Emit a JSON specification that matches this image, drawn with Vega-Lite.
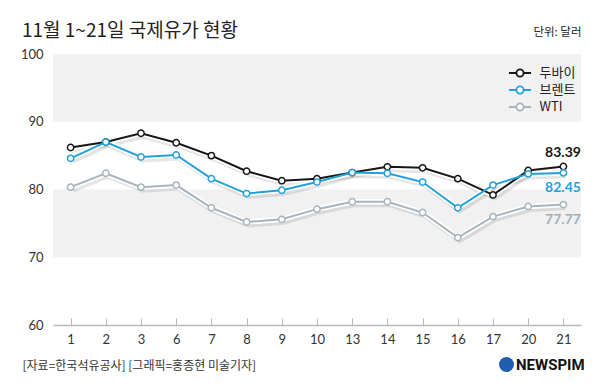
{
  "$schema": "https://vega.github.io/schema/vega-lite/v6.json",
  "width": 528,
  "height": 271,
  "autosize": {"type": "none"},
  "padding": {"left": 53, "top": 54, "right": 19, "bottom": 65},
  "background": "white",
  "title": {
    "text": "11월 1~21일 국제유가 현황",
    "anchor": "start",
    "frame": "group",
    "font": "Noto Sans CJK KR",
    "fontSize": 19,
    "fontWeight": "normal",
    "color": "#222222",
    "dx": -31,
    "dy": 25,
    "offset": 10
  },
  "config": {"view": {"stroke": null}},
  "datasets": {
    "bands": [
      {"value": 90, "value2": 100},
      {"value": 70, "value2": 80}
    ],
    "brand": [{"brand": "NEWSPIM"}],
    "prices": [
      {"day": 1, "series": "두바이", "value": 86.2},
      {"day": 2, "series": "두바이", "value": 87.0},
      {"day": 3, "series": "두바이", "value": 88.3},
      {"day": 6, "series": "두바이", "value": 86.9},
      {"day": 7, "series": "두바이", "value": 85.0},
      {"day": 8, "series": "두바이", "value": 82.7},
      {"day": 9, "series": "두바이", "value": 81.3},
      {"day": 10, "series": "두바이", "value": 81.6},
      {"day": 13, "series": "두바이", "value": 82.5},
      {"day": 14, "series": "두바이", "value": 83.35},
      {"day": 15, "series": "두바이", "value": 83.2},
      {"day": 16, "series": "두바이", "value": 81.6},
      {"day": 17, "series": "두바이", "value": 79.2},
      {"day": 20, "series": "두바이", "value": 82.8},
      {"day": 21, "series": "두바이", "value": 83.39},
      {"day": 1, "series": "브렌트", "value": 84.6},
      {"day": 2, "series": "브렌트", "value": 87.0},
      {"day": 3, "series": "브렌트", "value": 84.8},
      {"day": 6, "series": "브렌트", "value": 85.1},
      {"day": 7, "series": "브렌트", "value": 81.6},
      {"day": 8, "series": "브렌트", "value": 79.4},
      {"day": 9, "series": "브렌트", "value": 79.9},
      {"day": 10, "series": "브렌트", "value": 81.1},
      {"day": 13, "series": "브렌트", "value": 82.5},
      {"day": 14, "series": "브렌트", "value": 82.4},
      {"day": 15, "series": "브렌트", "value": 81.1},
      {"day": 16, "series": "브렌트", "value": 77.3},
      {"day": 17, "series": "브렌트", "value": 80.65},
      {"day": 20, "series": "브렌트", "value": 82.3},
      {"day": 21, "series": "브렌트", "value": 82.45},
      {"day": 1, "series": "WTI", "value": 80.35},
      {"day": 2, "series": "WTI", "value": 82.4},
      {"day": 3, "series": "WTI", "value": 80.35},
      {"day": 6, "series": "WTI", "value": 80.65},
      {"day": 7, "series": "WTI", "value": 77.3},
      {"day": 8, "series": "WTI", "value": 75.2},
      {"day": 9, "series": "WTI", "value": 75.6},
      {"day": 10, "series": "WTI", "value": 77.1},
      {"day": 13, "series": "WTI", "value": 78.2},
      {"day": 14, "series": "WTI", "value": 78.2},
      {"day": 15, "series": "WTI", "value": 76.6},
      {"day": 16, "series": "WTI", "value": 72.9},
      {"day": 17, "series": "WTI", "value": 76.0},
      {"day": 20, "series": "WTI", "value": 77.5},
      {"day": 21, "series": "WTI", "value": 77.77}
    ]
  },
  "encoding": {
    "y": {
      "field": "value",
      "type": "quantitative",
      "scale": {"domain": [60, 100], "nice": false, "zero": false},
      "axis": {
        "values": [60, 70, 80, 90, 100],
        "domain": false,
        "ticks": false,
        "grid": false,
        "labelPadding": 10,
        "labelFont": "Lato",
        "labelFontSize": 13,
        "labelColor": "#333333",
        "labelFlush": false,
        "title": "단위: 달러",
        "titleAngle": 0,
        "titleX": 528,
        "titleY": -22,
        "titleAlign": "right",
        "titleBaseline": "middle",
        "titleFont": "Noto Sans CJK KR",
        "titleFontSize": 11.5,
        "titleFontWeight": "normal",
        "titleColor": "#222222"
      }
    }
  },
  "layer": [
    {
      "data": {"name": "bands"},
      "mark": {"type": "rect", "color": "#f1f1f1"},
      "encoding": {"y2": {"field": "value2"}}
    },
    {
      "data": {"name": "prices"},
      "mark": {"type": "line", "stroke": "#000000", "strokeWidth": 5, "opacity": 0.1, "yOffset": 3, "xOffset": 2},
      "encoding": {
        "x": {"field": "day", "type": "ordinal", "scale": {"type": "point", "padding": 0.5},
          "axis": {
            "labelAngle": 0, "grid": false,
            "domainColor": "#b8b8b8", "domainWidth": 1.5,
            "tickColor": "#b8b8b8", "tickSize": -7, "tickWidth": 1,
            "labelPadding": 15, "labelFont": "Lato", "labelFontSize": 13, "labelColor": "#333333",
            "title": "[자료=한국석유공사] [그래픽=홍종현 미술기자]",
            "titleAnchor": "start", "titleAlign": "left", "titleX": -31, "titleY": 40,
            "titleBaseline": "middle", "titleFont": "Noto Sans CJK KR", "titleFontSize": 12,
            "titleFontWeight": "normal", "titleColor": "#333333"
          }
        },
        "detail": {"field": "series"}
      }
    },
    {
      "data": {"name": "prices"},
      "mark": {"type": "line", "stroke": "white", "strokeWidth": 5.5},
      "encoding": {
        "x": {"field": "day", "type": "ordinal"},
        "detail": {"field": "series"}
      }
    },
    {
      "data": {"name": "prices"},
      "mark": {"type": "line", "strokeWidth": 2},
      "encoding": {
        "x": {"field": "day", "type": "ordinal"},
        "stroke": {
          "field": "series",
          "type": "nominal",
          "scale": {"domain": ["두바이", "브렌트", "WTI"], "range": ["#161616", "#22a1db", "#a8b4bc"]},
          "legend": {
            "orient": "none",
            "legendX": 457.5,
            "legendY": 9.5,
            "title": null,
            "padding": 0,
            "rowPadding": 0,
            "symbolType": "M-1.3,0H-0.42M0.42,0H1.3M0.42,0A0.42,0.42,0,1,1,-0.42,0A0.42,0.42,0,1,1,0.42,0Z",
            "symbolSize": 289,
            "labelFont": "Noto Sans CJK KR",
            "labelFontSize": 13,
            "labelColor": "#222222",
            "labelOffset": 10,
            "encode": {
              "symbols": {
                "update": {
                  "fill": {"value": "white"},
                  "fillOpacity": {"value": 1},
                  "strokeWidth": {"value": 1.8},
                  "opacity": {"value": 1}
                }
              }
            }
          }
        }
      }
    },
    {
      "data": {"name": "prices"},
      "mark": {"type": "point", "filled": false, "fill": "white", "fillOpacity": 1, "size": 40, "strokeWidth": 1.5, "opacity": 1},
      "encoding": {
        "x": {"field": "day", "type": "ordinal"},
        "stroke": {"field": "series", "type": "nominal"}
      }
    },
    {
      "data": {"name": "prices"},
      "transform": [{"filter": "datum.series === '두바이' && datum.day === 21"}],
      "mark": {"type": "text", "font": "Lato", "fontWeight": "bold", "fontSize": 14, "color": "#161616", "align": "right", "baseline": "middle", "dx": 17.5, "dy": -13.5},
      "encoding": {
        "x": {"field": "day", "type": "ordinal"},
        "text": {"field": "value", "type": "quantitative", "format": ".2f"}
      }
    },
    {
      "data": {"name": "prices"},
      "transform": [{"filter": "datum.series === '브렌트' && datum.day === 21"}],
      "mark": {"type": "text", "font": "Lato", "fontWeight": "bold", "fontSize": 14, "color": "#22a1db", "align": "right", "baseline": "middle", "dx": 17.5, "dy": 15.5},
      "encoding": {
        "x": {"field": "day", "type": "ordinal"},
        "text": {"field": "value", "type": "quantitative", "format": ".2f"}
      }
    },
    {
      "data": {"name": "prices"},
      "transform": [{"filter": "datum.series === 'WTI' && datum.day === 21"}],
      "mark": {"type": "text", "font": "Lato", "fontWeight": "bold", "fontSize": 14, "color": "#a3afb8", "align": "right", "baseline": "middle", "dx": 17.5, "dy": 15},
      "encoding": {
        "x": {"field": "day", "type": "ordinal"},
        "text": {"field": "value", "type": "quantitative", "format": ".2f"}
      }
    },
    {
      "data": {"name": "brand"},
      "mark": {"type": "point", "filled": true, "color": "#1f5fae", "opacity": 0},
      "encoding": {
        "y": null,
        "shape": {
          "field": "brand",
          "type": "nominal",
          "scale": {"range": ["circle"]},
          "legend": {
            "orient": "none",
            "legendX": 445,
            "legendY": 302,
            "title": null,
            "padding": 0,
            "symbolSize": 225,
            "labelFont": "Roboto",
            "labelFontWeight": "bold",
            "labelFontSize": 15,
            "labelColor": "#111111",
            "labelOffset": 1,
            "encode": {
              "symbols": {
                "update": {
                  "fill": {"value": "#1f5fae"},
                  "fillOpacity": {"value": 1},
                  "stroke": {"value": "#f2b705"},
                  "strokeWidth": {"value": 1.5},
                  "opacity": {"value": 1},
                  "size": {"value": 200}
                }
              }
            }
          }
        }
      }
    }
  ]
}
